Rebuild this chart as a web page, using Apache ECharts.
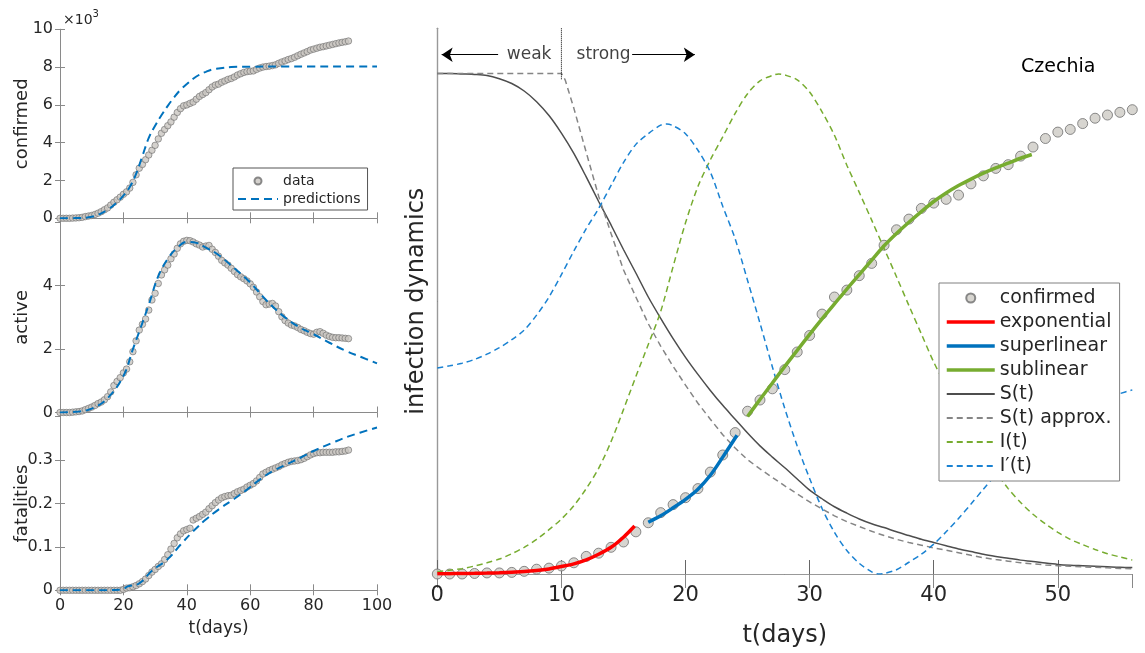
<!DOCTYPE html>
<html><head><meta charset="utf-8">
<script src="https://cdn.jsdelivr.net/npm/echarts@6.0.0/dist/echarts.min.js"></script>
<style>html,body{margin:0;padding:0;background:#fff}#c{width:1145px;height:653px}</style>
</head><body><div id="c"></div><script>
// ---------- left panels (days 0..91) ----------
const leftDays = Array.from({length: 92}, (_, i) => i);
const confirmedData = [0,0,0,0,0.01,0.02,0.03,0.05,0.09,0.12, 0.15,0.2,0.27,0.35,0.45,0.55,0.7,0.85,0.98,1.12, 1.27,1.4,1.6,1.9,2.3,2.65,2.85,3.1,3.35,3.6, 3.86,4.2,4.5,4.7,4.9,5.1,5.35,5.6,5.8,5.95, 6.0,6.08,6.15,6.3,6.45,6.55,6.65,6.8,6.95,7.05, 7.1,7.2,7.27,7.35,7.4,7.48,7.58,7.65,7.72,7.76, 7.78,7.8,7.88,7.95,8.0,8.03,8.05,8.08,8.12,8.2, 8.27,8.33,8.4,8.45,8.52,8.6,8.68,8.75,8.82,8.9, 8.95,9.0,9.05,9.08,9.12,9.16,9.2,9.24,9.28,9.31, 9.34,9.38];
const activeData = [0,0,0,0,0.01,0.02,0.03,0.05,0.09,0.13, 0.17,0.22,0.28,0.33,0.4,0.5,0.65,0.85,0.98,1.1, 1.25,1.37,1.6,1.92,2.26,2.6,2.78,2.95,3.23,3.55, 3.76,4.07,4.34,4.5,4.65,4.85,5.0,5.18,5.32,5.4, 5.43,5.42,5.38,5.32,5.28,5.22,5.25,5.27,5.15,5.05, 4.93,4.8,4.72,4.65,4.55,4.45,4.35,4.28,4.22,4.15, 4.06,3.95,3.8,3.65,3.5,3.4,3.42,3.44,3.36,3.18, 3.02,2.9,2.82,2.76,2.73,2.68,2.62,2.58,2.53,2.49, 2.47,2.53,2.55,2.5,2.44,2.4,2.37,2.36,2.36,2.35, 2.34,2.33];
const fatalData = [0,0,0,0,0,0,0,0,0,0, 0,0,0,0,0,0,0,0,0,0, 0.002,0.005,0.006,0.008,0.011,0.015,0.02,0.026,0.034,0.042, 0.048,0.055,0.061,0.071,0.082,0.095,0.108,0.121,0.13,0.137, 0.14,0.143,0.162,0.166,0.17,0.175,0.18,0.188,0.195,0.202, 0.208,0.213,0.216,0.218,0.219,0.223,0.227,0.23,0.233,0.238, 0.242,0.246,0.252,0.26,0.268,0.272,0.276,0.279,0.282,0.285, 0.289,0.292,0.295,0.297,0.298,0.299,0.301,0.304,0.308,0.312, 0.315,0.317,0.317,0.318,0.318,0.318,0.318,0.319,0.319,0.32, 0.321,0.323];

const predConfDays = [0,5,10,15,18,20,22,24,26,28,30,32,34,36,38,40,42,44,46,48,50,54,60,70,80,90,100];
const predConfVals = [0,0.01,0.08,0.45,0.85,1.2,1.65,2.35,3.3,4.25,4.9,5.45,5.95,6.4,6.8,7.1,7.38,7.6,7.75,7.87,7.93,8.0,8.02,8.03,8.03,8.03,8.03];
const predActDays = [0,5,10,15,20,23,25,28,31,34,37,40,43,46,50,55,60,65,70,75,80,85,90,95,100];
const predActVals = [0,0.02,0.12,0.45,1.15,2.0,2.55,3.4,4.3,4.85,5.2,5.38,5.35,5.2,4.97,4.55,4.1,3.55,3.08,2.72,2.47,2.2,1.95,1.75,1.55];
const predFatDays = [0,10,20,21,25,29,34,38,42,46,50,55,59,63,67,72,76,80,86,92,100];
const predFatVals = [0,0,0.002,0.008,0.016,0.045,0.072,0.105,0.136,0.163,0.186,0.211,0.232,0.255,0.274,0.292,0.306,0.321,0.34,0.357,0.375];

const leftXTicks = [0, 100, 20];      // min, max, interval
const leftYAxes = [
  {name: 'confirmed', max: 10, interval: 2},
  {name: 'active', max: 6, interval: 2},
  {name: 'fatalities', max: 0.4, interval: 0.1}
];

// ---------- main panel (days 0..56) ----------
const mainDays = Array.from({length: 57}, (_, i) => i);
const confirmedMain = [0,0,0,0.1,0.2,0.2,0.3,0.5,0.9,1.1, 1.5,2.1,3.3,3.9,5.0,6.0,7.9,9.6,11.5,13.0, 14.3,16.0,19.1,22.3,26.5,30.5,32.6,34.7,38.3,41.6, 44.7,48.7,51.9,53.2,55.9,58.2,61.6,64.5,66.5,68.5, 69.5,70.2,71.0,73.1,74.6,76.0,76.7,78.3,80.0,81.6, 82.8,83.3,84.4,85.4,86.0,86.5,87.0];
const expDays = [0,1,2,3,4,5,6,7,8,9,10,11,12,13,14,15,15.9];
const expVals = [0.05,0.07,0.09,0.12,0.17,0.25,0.35,0.45,0.65,0.95,1.4,1.9,2.65,3.7,5.0,6.9,9.0];
const supDays = [17,18,19,20,21,22,23,24.15];
const supVals = [9.7,10.9,12.4,14.0,15.9,18.5,21.9,26.0];
const subDays = [25,26,27,28,29,30,31,32,33,34,35,36,37,38,39,40,41,42,43,44,45,46,47,47.9];
const subVals = [29.5,32.7,35.8,38.9,41.9,44.9,47.8,50.6,53.4,56.1,58.8,61.5,63.8,65.9,67.9,69.8,71.4,72.8,74.0,75.1,76.1,77.0,77.9,78.6];
const sVals = [93.8,93.8,93.7,93.6,93.4,92.8,91.9,90.5,88.5,85.9, 82.6,78.8,74.4,69.8,65.4,60.8,56.4,51.9,47.9,44.1, 40.6,37.4,34.4,31.6,29.0,26.4,24.0,21.9,19.9,17.8, 15.7,14.1,12.6,11.4,10.3,9.4,8.7,7.9,7.2,6.5, 5.9,5.3,4.7,4.2,3.7,3.3,2.95,2.6,2.35,2.05, 1.8,1.65,1.55,1.45,1.35,1.25,1.2];
const sApxDays = [0,10,10.3,11,12,13,14,15,16,17,18,19,20,21,22,23,24,25,26,27,28,29,30,31,32,33,34,35,36,37,38,39,40,41,42,43,44,45,46,47,48,49,50,51,52,53,54,55,56];
const sApxVals = [93.8,93.8,92.6,87.3,79.0,70.8,63.8,57.0,51.9,46.9,42.7,38.9,35.4,32.0,29.0,26.1,23.6,21.4,19.7,18.1,16.5,15.0,13.5,12.2,10.9,9.8,8.9,8.0,7.2,6.5,5.9,5.4,4.9,4.45,4.0,3.5,3.05,2.7,2.4,2.1,1.9,1.7,1.55,1.45,1.35,1.25,1.15,1.05,1.0];
const iDays = [0,1,2,3,4,5,6,7,8,9,10,11,12,13,14,15,16,17,18,19,20,21,22,23,24,25,26,27,27.5,28,29,30,31,32,33,34,35,36,37,38,39,40,41,42,43,44,45,46,47,48,49,50,51,52,53,54,55,56];
const iVals = [0.4,0.7,1.0,1.5,2.1,2.8,3.8,5.0,6.5,8.3, 10.3,12.8,16.0,19.8,24.8,30.8,37.0,43.0,49.2,57.6, 65.8,72.6,77.6,81.9,86.3,90.0,92.4,93.4,93.7,93.5, 92.6,90.3,86.6,82.2,76.6,71.5,66.3,61.0,55.7,50.3, 45.0,39.7,35.2,30.8,26.6,22.8,19.2,16.0,13.4,11.2, 9.4,7.8,6.5,5.5,4.6,3.8,3.2,2.6];
const dDays = [0,1,2,3,4,5,6,7,8,9,10,11,12,13,14,15,16,17,18,18.5,19,20,21,22,23,24,25,26,27,28,29,30,31,32,33,34,35,35.6,36,37,38,39,40,41,42,43,44,45,46,47,48,49,50,51,52,53,54,55,56];
const dVals = [38.6,39.0,39.5,40.2,41.2,42.4,43.9,45.7,48.5,51.9, 56.1,60.5,64.7,68.5,72.8,77.1,80.5,82.5,84.1,84.3, 84.0,82.5,79.4,75.3,68.9,62.8,55.0,47.0,38.8,31.0, 24.0,17.9,12.3,7.8,4.4,2.0,0.4,0.0,0.1,0.8, 2.2,3.7,5.6,7.9,10.4,13.1,15.9,18.6,21.1,23.3, 25.2,26.9,28.4,29.7,30.9,32.0,33.0,33.8,34.5];

const mainX = {min: 0, max: 56, interval: 10};
const mainYMax = 102.25;
const regime = {split: 10, dividerBottom: 92.7, arrowY: 97.3, weakX: 7.4, strongX: 13.4,
                leftArrow: [0.35, 4.9], rightArrow: [20.75, 15.7]};

const legendMain = ['confirmed','exponential','superlinear','sublinear','S(t)','S(t) approx.','I(t)',"I\u2032(t)"];

// ---------- chart ----------
const FONT = 'DejaVu Sans';
const TXT = '#262626';
const zip = (xs, ys) => xs.map((x, i) => [x, ys[i]]);

const grids = [
  {left: 60, top: 29.3, width: 317, height: 189},
  {left: 60, top: 222.3, width: 317, height: 190.2},
  {left: 60, top: 416.7, width: 317, height: 173.6},
  {left: 437.3, top: 28.3, width: 695, height: 555.4}
];
const xAxes = [], yAxes = [];
const frame = '#8a8a8a';
leftYAxes.forEach((ya, i) => {
  const isBottom = i === 2;
  xAxes.push({gridIndex: i, type: 'value', position: 'bottom', min: leftXTicks[0], max: leftXTicks[1], interval: leftXTicks[2],
    axisLine: {lineStyle: {color: frame}}, axisTick: {inside: true, length: 6, lineStyle: {color: frame}},
    axisLabel: {show: isBottom, fontSize: 16, color: TXT, fontFamily: FONT, margin: 8},
    splitLine: {show: false},
    name: isBottom ? 't(days)' : '', nameLocation: 'middle', nameGap: 30,
    nameTextStyle: {fontSize: 17, color: TXT, fontFamily: FONT}});
  xAxes.push({gridIndex: i, type: 'value', position: 'top', min: leftXTicks[0], max: leftXTicks[1], interval: leftXTicks[2],
    axisLine: {lineStyle: {color: frame}}, axisTick: {inside: true, length: 5, lineStyle: {color: frame}},
    axisLabel: {show: false}, splitLine: {show: false}});
  yAxes.push({gridIndex: i, type: 'value', position: 'left', min: 0, max: ya.max, interval: ya.interval,
    axisLine: {show: true, lineStyle: {color: frame}}, axisTick: {show: true, inside: true, length: 5, lineStyle: {color: frame}},
    axisLabel: {fontSize: 16, color: TXT, fontFamily: FONT, margin: 7, showMaxLabel: i === 0},
    splitLine: {show: false},
    name: ya.name, nameLocation: 'middle', nameGap: 29, nameRotate: 90, nameMoveOverlap: false,
    nameTextStyle: {fontSize: 18, color: TXT, fontFamily: FONT}});
  yAxes.push({gridIndex: i, type: 'value', position: 'right', min: 0, max: ya.max, interval: ya.interval,
    axisLine: {show: true, lineStyle: {color: frame}}, axisTick: {show: true, inside: true, length: 5, lineStyle: {color: frame}},
    axisLabel: {show: false}, splitLine: {show: false}});
});
// main panel axes (index 6/7)
xAxes.push({gridIndex: 3, type: 'value', position: 'bottom', min: mainX.min, max: mainX.max, interval: mainX.interval,
  axisLine: {lineStyle: {color: '#666', width: 1.2}}, axisTick: {inside: true, length: 14, lineStyle: {color: '#666'}},
  axisLabel: {fontSize: 21, color: TXT, fontFamily: FONT, margin: 11, showMaxLabel: false},
  splitLine: {show: false},
  name: 't(days)', nameLocation: 'middle', nameGap: 50,
  nameTextStyle: {fontSize: 24, color: TXT, fontFamily: FONT}});
xAxes.push({gridIndex: 3, type: 'value', position: 'top', min: mainX.min, max: mainX.max, interval: mainX.interval,
  axisLine: {lineStyle: {color: '#999'}}, axisTick: {inside: true, length: 14, lineStyle: {color: '#888'}},
  axisLabel: {show: false}, splitLine: {show: false}});
yAxes.push({gridIndex: 3, type: 'value', position: 'left', min: 0, max: mainYMax,
  axisLine: {show: true, lineStyle: {color: '#333', width: 1.2}}, axisTick: {show: false}, axisLabel: {show: false},
  splitLine: {show: false},
  name: 'infection dynamics', nameLocation: 'middle', nameGap: 9, nameRotate: 90, nameMoveOverlap: false,
  nameTextStyle: {fontSize: 24, color: TXT, fontFamily: FONT}});
yAxes.push({gridIndex: 3, type: 'value', position: 'right', min: 0, max: mainYMax,
  axisLine: {show: true, lineStyle: {color: '#999'}}, axisTick: {show: false}, axisLabel: {show: false},
  splitLine: {show: false}});

const dotStyleSmall = {color: '#c9c6c0', borderColor: '#6e6e6e', borderWidth: 0.8};
const predStyle = {color: '#0072BD', width: 2, type: [8, 5]};
const leftSets = [
  {dots: confirmedData, pd: predConfDays, pv: predConfVals, dn: 'data', pn: 'predictions'},
  {dots: activeData, pd: predActDays, pv: predActVals, dn: 'data-active', pn: 'pred-active'},
  {dots: fatalData, pd: predFatDays, pv: predFatVals, dn: 'data-fatal', pn: 'pred-fatal'}
];
const series = [];
leftSets.forEach((s, i) => {
  series.push({name: s.dn, type: 'scatter', xAxisIndex: 2 * i, yAxisIndex: 2 * i, data: zip(leftDays, s.dots),
    symbol: 'circle', symbolSize: 6.5, itemStyle: dotStyleSmall, z: 2});
  series.push({name: s.pn, type: 'line', xAxisIndex: 2 * i, yAxisIndex: 2 * i, data: zip(s.pd, s.pv),
    symbol: 'none', smooth: 0.4, lineStyle: predStyle, itemStyle: {color: '#0072BD'}, z: 3});
});
const M = {xAxisIndex: 6, yAxisIndex: 6};
function mline(name, xs, ys, color, width, type, smooth) {
  return Object.assign({name, type: 'line', data: zip(xs, ys), symbol: 'none', smooth: smooth,
    lineStyle: {color, width, type}, itemStyle: {color}, z: 3}, M);
}
series.push(Object.assign({name: 'confirmed', type: 'scatter', data: zip(mainDays, confirmedMain), symbol: 'circle', symbolSize: 10,
  itemStyle: {color: '#cdcac4', borderColor: '#6e6e6e', borderWidth: 1}, z: 2}, M));
series.push(mline('S(t)', mainDays, sVals, '#4d4d4d', 1.5, 'solid', 0.3));
series.push(mline('S(t) approx.', sApxDays, sApxVals, '#858585', 1.5, [6, 4], false));
series.push(mline('I(t)', iDays, iVals, '#77AC30', 1.5, [6, 4], 0.3));
series.push(mline("I\u2032(t)", dDays, dVals, '#1a82d2', 1.5, [6, 4], 0.3));
series.push(mline('exponential', expDays, expVals, '#ff0000', 3.5, 'solid', 0.3));
series.push(mline('superlinear', supDays, supVals, '#0072BD', 3.5, 'solid', 0.3));
series.push(mline('sublinear', subDays, subVals, '#77AC30', 3.5, 'solid', 0.3));
// regime annotation (weak / strong)
series.push(Object.assign({name: 'divider', type: 'line', silent: true, symbol: 'none',
  data: [[regime.split, mainYMax], [regime.split, regime.dividerBottom]],
  lineStyle: {color: '#000', width: 1, type: 'dotted'}, z: 4,
  markLine: {silent: true, symbol: ['arrow', 'none'], symbolSize: 11, label: {show: false},
    lineStyle: {color: '#000', width: 1, type: 'solid'},
    data: [
      [{coord: [regime.leftArrow[0], regime.arrowY]}, {coord: [regime.leftArrow[1], regime.arrowY]}],
      [{coord: [regime.rightArrow[0], regime.arrowY]}, {coord: [regime.rightArrow[1], regime.arrowY]}]
    ]}}, M));
series.push(Object.assign({name: 'regimes', type: 'scatter', silent: true, symbolSize: 1,
  itemStyle: {color: 'rgba(0,0,0,0)'},
  data: [{name: 'weak', value: [regime.weakX, regime.arrowY]}, {name: 'strong', value: [regime.strongX, regime.arrowY]}],
  label: {show: true, position: 'inside', formatter: '{b}', fontSize: 17, color: '#111', fontFamily: FONT}, z: 4}, M));

// legend entries: hide the marker dot that ECharts puts on line icons
const lineOnly = {opacity: 0};
const thick = ['exponential', 'superlinear', 'sublinear'];
const legendMainData = legendMain.map(n => n === 'confirmed' ? {name: n}
  : (thick.includes(n) ? {name: n, itemStyle: lineOnly, lineStyle: {width: 3.5}} : {name: n, itemStyle: lineOnly}));

const option = {
  animation: false,
  backgroundColor: '#fff',
  textStyle: {fontFamily: FONT},
  grid: grids,
  xAxis: xAxes,
  yAxis: yAxes,
  legend: [
    {data: legendMainData, orient: 'vertical', left: 939, top: 283, itemWidth: 48, itemHeight: 9, itemGap: 2,
     padding: [4, 8, 4, 6], borderColor: '#808080', borderWidth: 1, backgroundColor: '#fff', selectedMode: false,
     textStyle: {fontSize: 19, lineHeight: 22, color: TXT, fontFamily: FONT}},
    {data: [{name: 'data'}, {name: 'predictions', itemStyle: lineOnly}], orient: 'vertical', left: 233, top: 168,
     itemWidth: 40, itemHeight: 7, itemGap: 0,
     padding: [4, 7, 2, 4], borderColor: '#555', borderWidth: 1, backgroundColor: '#fff', selectedMode: false,
     textStyle: {fontSize: 14, lineHeight: 18, color: TXT, fontFamily: FONT}}
  ],
  graphic: [
    {type: 'text', left: 63, top: 9, style: {text: '{a|\u00d710}{b|3}', rich: {
      a: {fontSize: 14, fontFamily: FONT, fill: TXT, verticalAlign: 'bottom', lineHeight: 18},
      b: {fontSize: 10, fontFamily: FONT, fill: TXT, verticalAlign: 'top', lineHeight: 18}}}},
    {type: 'text', left: 1021, top: 58, style: {text: 'Czechia', fontSize: 19, fontFamily: FONT, fill: '#000'}}
  ],
  series: series
};
const chart = echarts.init(document.getElementById('c'), null, {renderer: 'canvas'});
chart.setOption(option);
</script></body></html>
